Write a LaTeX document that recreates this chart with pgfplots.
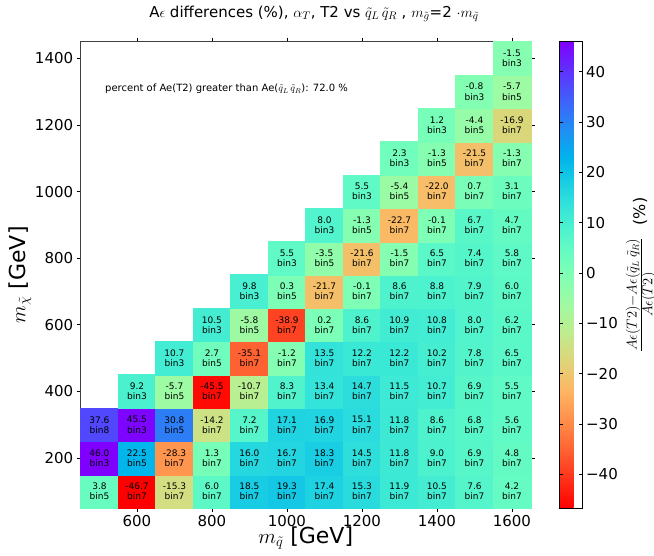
\documentclass[border=0pt]{standalone}
\usepackage{pgfplots}
\pgfplotsset{compat=1.18}
\usepackage{pgfplotstable}
\usepackage{fontspec}
\setmainfont{DejaVu Sans}

\pgfplotstableread{
x y v b
500 100 3.8 bin5
600 100 -46.7 bin7
700 100 -15.3 bin7
800 100 6.0 bin7
900 100 18.5 bin7
1000 100 19.3 bin7
1100 100 17.4 bin7
1200 100 15.3 bin7
1300 100 11.9 bin7
1400 100 10.5 bin7
1500 100 7.6 bin7
1600 100 4.2 bin7
500 200 46.0 bin3
600 200 22.5 bin5
700 200 -28.3 bin7
800 200 1.3 bin7
900 200 16.0 bin7
1000 200 16.7 bin7
1100 200 18.3 bin7
1200 200 14.5 bin7
1300 200 11.8 bin7
1400 200 9.0 bin7
1500 200 6.9 bin7
1600 200 4.8 bin7
500 300 37.6 bin8
600 300 45.5 bin3
700 300 30.8 bin5
800 300 -14.2 bin7
900 300 7.2 bin7
1000 300 17.1 bin7
1100 300 16.9 bin7
1200 300 15.1 bin7
1300 300 11.8 bin7
1400 300 8.6 bin7
1500 300 6.8 bin7
1600 300 5.6 bin7
600 400 9.2 bin3
700 400 -5.7 bin5
800 400 -45.5 bin7
900 400 -10.7 bin7
1000 400 8.3 bin7
1100 400 13.4 bin7
1200 400 14.7 bin7
1300 400 11.5 bin7
1400 400 10.7 bin7
1500 400 6.9 bin7
1600 400 5.5 bin7
700 500 10.7 bin3
800 500 2.7 bin5
900 500 -35.1 bin7
1000 500 -1.2 bin7
1100 500 13.5 bin7
1200 500 12.2 bin7
1300 500 12.2 bin7
1400 500 10.2 bin7
1500 500 7.8 bin7
1600 500 6.5 bin7
800 600 10.5 bin3
900 600 -5.8 bin5
1000 600 -38.9 bin7
1100 600 0.2 bin7
1200 600 8.6 bin7
1300 600 10.9 bin7
1400 600 10.8 bin7
1500 600 8.0 bin7
1600 600 6.2 bin7
900 700 9.8 bin3
1000 700 0.3 bin5
1100 700 -21.7 bin7
1200 700 -0.1 bin7
1300 700 8.6 bin7
1400 700 8.8 bin7
1500 700 7.9 bin7
1600 700 6.0 bin7
1000 800 5.5 bin3
1100 800 -3.5 bin5
1200 800 -21.6 bin7
1300 800 -1.5 bin7
1400 800 6.5 bin7
1500 800 7.4 bin7
1600 800 5.8 bin7
1100 900 8.0 bin3
1200 900 -1.3 bin5
1300 900 -22.7 bin7
1400 900 -0.1 bin7
1500 900 6.7 bin7
1600 900 4.7 bin7
1200 1000 5.5 bin3
1300 1000 -5.4 bin5
1400 1000 -22.0 bin7
1500 1000 0.7 bin7
1600 1000 3.1 bin7
1300 1100 2.3 bin3
1400 1100 -1.3 bin5
1500 1100 -21.5 bin7
1600 1100 -1.3 bin7
1400 1200 1.2 bin3
1500 1200 -4.4 bin5
1600 1200 -16.9 bin7
1500 1300 -0.8 bin3
1600 1300 -5.7 bin5
1600 1400 -1.5 bin3
}\cells

\begin{document}
\begin{tikzpicture}
\begin{axis}[
  at={(80.7pt,48pt)}, anchor=south west,
  scale only axis,
  width=450pt, height=466.3pt,
  xmin=450, xmax=1650, ymin=50, ymax=1450,
  xtick={600,800,...,1600},
  ytick={200,400,...,1400},
  scaled ticks=false,
  /pgf/number format/1000 sep={},
  /pgf/number format/assume math mode=true,
  ticklabel style={font=\fontsize{15}{18}\selectfont},
  tick align=outside,
  major tick length=4pt,
  tick style={black, line width=0.8pt},
  axis line style={black!75, line width=1pt},
  axis on top,
  xlabel={$m_{\tilde q}$ [GeV]},
  ylabel={$m_{\tilde\chi}$ [GeV]},
  label style={font=\fontsize{22}{26}\selectfont},
  xlabel style={at={(axis description cs:0.5,-0.064)}, anchor=center},
  ylabel style={at={(axis description cs:-0.135,0.5)}, anchor=center},
  colormap={rb}{
    rgb=(1,0,0) rgb=(1,.195,.098) rgb=(1,.383,.195) rgb=(1,.556,.290)
    rgb=(1,.707,.383) rgb=(.875,.831,.471) rgb=(.75,.924,.556) rgb=(.625,.981,.634)
    rgb=(.5,1,.707) rgb=(.375,.981,.773) rgb=(.25,.924,.831) rgb=(.125,.831,.882)
    rgb=(0,.707,.924) rgb=(.125,.556,.957) rgb=(.25,.383,.981) rgb=(.375,.195,.995)
    rgb=(.5,0,1)},
  colormap name=rb,
  point meta min=-46.7, point meta max=46.0,
  colorbar,
  colorbar style={
    at={(1.0636,0)}, anchor=south west,
    width=23.3pt,
    ytick={-40,-30,...,40},
    yticklabels={−40,−30,−20,−10,0,10,20,30,40},
    yticklabel style={font=\fontsize{15}{18}\selectfont},
    tick align=inside,
    major tick length=4pt,
    axis line style={black, line width=0.8pt},
    ylabel={\fontsize{19}{22}\selectfont$\frac{A\epsilon(T2)-A\epsilon(\tilde q_L\,\tilde q_R)}{A\epsilon(T2)}$\ \ \fontsize{16}{19}\selectfont(\%)},
    ylabel style={at={(axis description cs:3.5,0.5)}, anchor=center},
  },
]
% coloured cells
\addplot[scatter, only marks, mark=square*, mark size=16.85pt,
  mark options={xscale=1.125},
  scatter/use mapped color={draw=mapped color, fill=mapped color},
  point meta=explicit] table[x=x, y=y, meta=v] {\cells};
% value labels
\addplot[only marks, mark=none, point meta=explicit symbolic,
  nodes near coords,
  every node near coord/.append style={anchor=center, yshift=5pt, text=black,
    inner sep=0pt, font=\fontsize{9}{10}\selectfont}]
  table[x=x, y=y, meta=v] {\cells};
% bin labels
\addplot[only marks, mark=none, point meta=explicit symbolic,
  nodes near coords,
  every node near coord/.append style={anchor=center, yshift=-5pt, text=black,
    inner sep=0pt, font=\fontsize{9}{10}\selectfont}]
  table[x=x, y=y, meta=b] {\cells};
\node[anchor=west, font=\fontsize{10}{12}\selectfont] at (axis cs:506,1308)
  {percent of Ae(T2) greater than Ae($\tilde q_L\,\tilde q_R$): 72.0 \%};
\end{axis}
\node[font=\fontsize{15}{18}\selectfont] at (314pt,542pt)
  {A$\epsilon$ differences (\%), $\alpha_T$, T2 vs $\tilde q_L\,\tilde q_R$ , $m_{\tilde g}$=2 $\cdot m_{\tilde q}$};
\pgfresetboundingbox
\useasboundingbox (0,0) rectangle (654pt,556pt);
\end{tikzpicture}
\end{document}
